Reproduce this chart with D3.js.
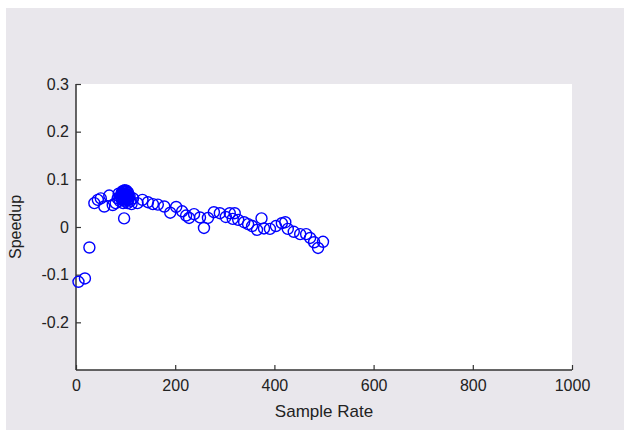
<!DOCTYPE html>
<html>
<head>
<meta charset="utf-8">
<script src="https://cdn.jsdelivr.net/npm/d3@7"></script>
<style>
  body { margin: 0; background: #fff; }
  text { font-family: "Liberation Sans", Arial, sans-serif; fill: #222; }
</style>
</head>
<body>
<div class="chart"></div>
<script>
// sample rate vs speedup
var sampleRate = [5, 18, 27, 37, 44, 50, 57, 67, 74, 80, 84, 86, 88, 90, 92, 93, 94, 95, 96, 97,
                  98, 99, 100, 101, 102, 103, 104, 105, 106, 108, 110, 112, 97, 115, 124, 134, 145, 155, 165, 178,
                  190, 202, 214, 222, 228, 238, 250, 258, 266, 278, 290, 302, 310, 316, 320, 327, 339, 347, 355, 365,
                  374, 379, 391, 403, 415, 422, 427, 439, 452, 464, 472, 480, 488, 498,
                  91, 93, 95, 97, 99, 101, 103, 105, 94, 98, 102, 96, 100, 104, 92, 106];
var speedup = [-0.115, -0.108, -0.043, 0.05, 0.057, 0.06, 0.043, 0.066, 0.046, 0.05, 0.06, 0.07, 0.055, 0.065, 0.072, 0.06, 0.068, 0.05, 0.074, 0.062,
               0.07, 0.055, 0.065, 0.074, 0.06, 0.068, 0.05, 0.072, 0.058, 0.065, 0.055, 0.048, 0.018, 0.06, 0.05, 0.057, 0.052, 0.048, 0.047, 0.043,
               0.03, 0.042, 0.033, 0.024, 0.019, 0.027, 0.02, -0.002, 0.019, 0.031, 0.029, 0.021, 0.029, 0.017, 0.029, 0.015, 0.01, 0.006, 0.002, -0.006,
               0.018, -0.003, -0.004, 0.002, 0.008, 0.01, -0.004, -0.01, -0.015, -0.015, -0.023, -0.032, -0.044, -0.031,
               0.064, 0.069, 0.063, 0.067, 0.061, 0.069, 0.064, 0.062, 0.075, 0.077, 0.076, 0.058, 0.058, 0.056, 0.058, 0.066];
var xTicks = [0, 200, 400, 600, 800, 1000];
var yTicks = [-0.2, -0.1, 0, 0.1, 0.2, 0.3];

function init() {
    var w = 624;
    var h = 430;
    var left = 76, right = 572, top = 84, bottom = 370;

    var x = d3.scaleLinear().domain([0, 1000]).range([left, right]);
    var y = d3.scaleLinear().domain([-0.3, 0.3]).range([bottom, top]);

    var svg = d3.select(".chart")
        .append("svg")
        .attr("width", w)
        .attr("height", h);

    // figure background, white strip on top and left
    svg.append("rect")
        .attr("x", 6).attr("y", 8)
        .attr("width", w - 6).attr("height", h - 8)
        .attr("fill", "#e9e7ec");

    svg.append("rect")
        .attr("x", left).attr("y", top)
        .attr("width", right - left).attr("height", bottom - top)
        .attr("fill", "#ffffff");

    var xAxis = d3.axisBottom(x)
        .tickValues(xTicks)
        .tickSizeInner(-5)
        .tickSizeOuter(0)
        .tickPadding(10)
        .tickFormat(d3.format("d"));

    var yAxis = d3.axisLeft(y)
        .tickValues(yTicks)
        .tickSizeInner(-5)
        .tickSizeOuter(0)
        .tickPadding(7)
        .tickFormat(function(d) { return d === 0 ? "0" : d.toFixed(1); });

    var gx = svg.append("g")
        .attr("transform", "translate(0," + bottom + ")")
        .call(xAxis);
    var gy = svg.append("g")
        .attr("transform", "translate(" + left + ",0)")
        .call(yAxis);

    [gx, gy].forEach(function(g) {
        g.select(".domain").attr("stroke", "#333").attr("stroke-width", 1.5);
        g.selectAll(".tick line").attr("stroke", "#333").attr("stroke-width", 1.2);
        g.selectAll(".tick text")
            .attr("fill", "#222")
            .style("font-family", "Liberation Sans, Arial, sans-serif")
            .style("font-size", "16px");
    });
    gy.select(".domain").attr("d", "M0," + top + "V" + bottom);
    gx.select(".domain").attr("d", "M" + left + ",0H" + right);

    svg.append("text")
        .attr("x", (left + right) / 2)
        .attr("y", 417)
        .attr("text-anchor", "middle")
        .style("font-size", "17px")
        .text("Sample Rate");

    svg.append("text")
        .attr("transform", "translate(21," + (top + bottom) / 2 + ") rotate(-90)")
        .attr("text-anchor", "middle")
        .style("font-size", "16px")
        .text("Speedup");

    var pts = sampleRate.map(function(d, i) { return [d, speedup[i]]; });

    svg.append("g")
        .selectAll("circle")
        .data(pts)
        .enter()
        .append("circle")
        .attr("cx", function(d) { return x(d[0]); })
        .attr("cy", function(d) { return y(d[1]); })
        .attr("r", 5.5)
        .attr("fill", "none")
        .attr("stroke", "#0000ff")
        .attr("stroke-width", 1.4);
}

init()
</script>
</body>
</html>
